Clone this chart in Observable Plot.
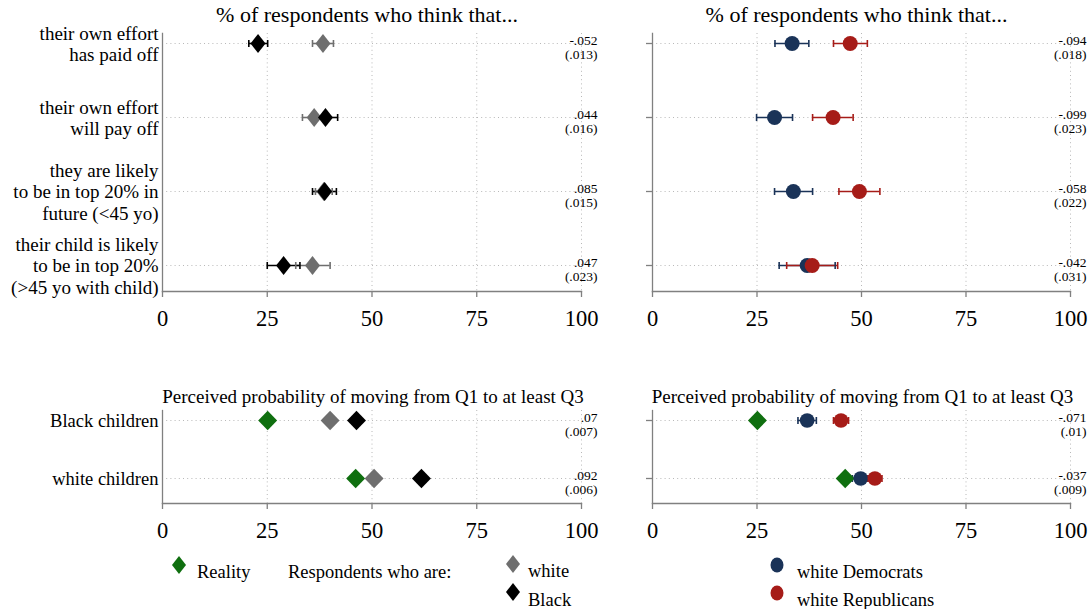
<!DOCTYPE html>
<html><head><meta charset="utf-8">
<script src="https://cdn.jsdelivr.net/npm/d3@7"></script>
<script src="https://cdn.jsdelivr.net/npm/@observablehq/plot@0.6"></script>
<style>
html,body{margin:0;padding:0;background:#fff;overflow:hidden;}
#wrap{position:relative;width:1091px;height:609px;font-family:"Liberation Serif",serif;}
.panel{position:absolute;}
.panel svg{overflow:visible;}
</style></head><body><div id="wrap"></div>
<script>
// ---------- data ----------
const questions = [
  "their own effort\nhas paid off",
  "their own effort\nwill pay off",
  "they are likely\nto be in top 20% in\nfuture (<45 yo)",
  "their child is likely\nto be in top 20%\n(>45 yo with child)"
];
// respondents by race (% who think that...)
const whiteMean = [38.3, 36.2, 38.5, 35.8];
const whiteLo   = [35.8, 33.4, 36.5, 31.8];
const whiteHi   = [40.8, 39.0, 40.5, 40.0];
const blackMean = [22.8, 38.9, 38.7, 28.9];
const blackLo   = [20.6, 36.0, 35.8, 25.0];
const blackHi   = [25.1, 41.8, 41.5, 32.8];
const raceCoef  = ["-.052", ".044", ".085", ".047"];
const raceSE    = ["(.013)", "(.016)", "(.015)", "(.023)"];
// respondents by party
const demMean = [33.4, 29.2, 33.7, 37.0];
const demLo   = [29.3, 24.9, 29.2, 30.3];
const demHi   = [37.4, 33.5, 38.3, 43.7];
const repMean = [47.3, 43.2, 49.5, 38.2];
const repLo   = [43.3, 38.3, 44.6, 32.1];
const repHi   = [51.4, 48.0, 54.4, 44.3];
const partyCoef = ["-.094", "-.099", "-.058", "-.042"];
const partySE   = ["(.018)", "(.023)", "(.022)", "(.031)"];
// perceived probability of moving from Q1 to at least Q3
const children = ["Black children", "white children"];
const reality    = [25.1, 46.1];
const whiteChild = [40.0, 50.5];
const blackChild = [46.3, 61.8];
const raceChildCoef = [".07", ".092"];
const raceChildSE   = ["(.007)", "(.006)"];
const demChild   = [37.0, 49.8];
const demChildLo = [34.8, 47.8];
const demChildHi = [39.2, 51.8];
const repChild   = [45.1, 53.2];
const repChildLo = [43.3, 51.5];
const repChildHi = [46.9, 54.9];
const partyChildCoef = ["-.071", "-.037"];
const partyChildSE   = ["(.01)", "(.009)"];
const xTicks = [0, 25, 50, 75, 100];
const titleTop = "% of respondents who think that...";
const titleBottom = "Perceived probability of moving from Q1 to at least Q3";

// legend labels and series keys
const groups = ["Reality", "White respondents", "Black respondents", "white Democrats", "white Republicans"];
const legendLabels = ["Reality", "white", "Black", "white Democrats", "white Republicans"];
const groupColors = ["#0f6f0f", "#6e6e6e", "#000000", "#1a3358", "#a61c18"];
const diamondGroups = ["Reality", "White respondents", "Black respondents"];
const FONT = '"Liberation Serif", serif';

function diamondSymbol(ratio) {
  return {draw(ctx, size) {
    const r = Math.sqrt(size) * 0.62625, w = r * ratio;
    ctx.moveTo(0, -r); ctx.lineTo(w, 0); ctx.lineTo(0, r); ctx.lineTo(-w, 0); ctx.closePath();
  }};
}
const capSymbol = {draw(ctx) { ctx.moveTo(0, -3.5); ctx.lineTo(0, 3.5); }};
function rows(cats, group, mean, lo, hi) {
  return cats.map((q, i) => ({q, group, mean: mean[i], lo: lo ? lo[i] : null, hi: hi ? hi[i] : null}));
}
function annots(cats, coef, se) {
  return cats.map((q, i) => ({q, t: coef[i] + "\n" + se[i]}));
}
const G = {value: "group", scale: "color"};

function panel(o) {
  const grid = {stroke: "#b8b8b8", strokeOpacity: 1, strokeWidth: 1, strokeDasharray: "1,3.2"};
  const axisStroke = {stroke: "#808080", strokeWidth: 1.3};
  const marks = [
    Plot.gridX({ticks: xTicks.slice(1), ...grid}),
    Plot.gridY({...grid}),
    Plot.frame({anchor: "left", ...axisStroke}),
    Plot.frame({anchor: "bottom", ...axisStroke}),
    Plot.axisX({ticks: xTicks, tickSize: 6, tickPadding: 13, fontSize: 22.5, ...axisStroke,
                fill: "#000", label: null}),
    Plot.axisY({tickSize: o.labels ? 0 : 6, tickPadding: 4, fontSize: o.labelSize, lineHeight: 1.13,
                ...axisStroke, fill: "#000", label: null,
                tickFormat: o.labels ? (d => d) : (() => "")})
  ];
  const err = o.data.filter(d => d.lo != null);
  if (err.length) {
    marks.push(Plot.ruleY(err, {y: "q", x1: "lo", x2: "hi", stroke: G, strokeWidth: 1.6}));
    marks.push(Plot.dot(err, {x: "lo", y: "q", stroke: G, fill: "none", strokeWidth: 1.6, symbol: capSymbol, r: 3}));
    marks.push(Plot.dot(err, {x: "hi", y: "q", stroke: G, fill: "none", strokeWidth: 1.6, symbol: capSymbol, r: 3}));
  }
  const dia = o.data.filter(d => diamondGroups.includes(d.group));
  const cir = o.data.filter(d => !diamondGroups.includes(d.group));
  if (dia.length) marks.push(Plot.dot(dia, {x: "mean", y: "q", fill: G, stroke: "none",
                                              symbol: diamondSymbol(o.ratio), r: o.dr}));
  if (cir.length) marks.push(Plot.dot(cir, {x: "mean", y: "q", fill: G, stroke: "none",
                                              symbol: "circle", r: o.cr}));
  marks.push(Plot.text(o.annot, {y: "q", text: "t", frameAnchor: "right", textAnchor: "end",
                                 lineAnchor: "middle", dx: 16, dy: 4, fontSize: 13.5, lineHeight: 1.06, fill: "#000"}));
  marks.push(Plot.text([o.title], {text: d => d, frameAnchor: "top", lineAnchor: "middle",
                                   dx: o.titleDx, dy: o.titleDy, fontSize: o.titleSize, fill: "#000"}));
  const svg = Plot.plot({
    width: o.width, height: o.height,
    marginLeft: 162, marginRight: o.marginRight, marginTop: o.marginTop, marginBottom: o.marginBottom,
    x: {domain: [0, 100]},
    y: {type: "point", domain: o.cats, range: o.yRange, padding: 0},
    color: {type: "ordinal", domain: groups, range: groupColors},
    style: {fontFamily: FONT, fontSize: "19px", color: "#000", background: "transparent", overflow: "visible"},
    marks
  });
  const div = document.createElement("div");
  div.className = "panel";
  div.style.left = o.left + "px";
  div.style.top = o.top + "px";
  div.appendChild(svg);
  document.getElementById("wrap").appendChild(div);
}

const topCommon = {cats: questions, top: 0, height: 345, marginTop: 33, marginBottom: 54,
                   yRange: [42, 265], title: titleTop, titleSize: 22, titleDx: -5, titleDy: -19,
                   ratio: 0.79, dr: 8.55, cr: 7.5, labelSize: 19};
const botCommon = {cats: children, top: 370, height: 190, marginTop: 40, marginBottom: 57,
                   yRange: [50, 108], title: titleBottom, titleSize: 19, titleDx: 1, titleDy: -13.5,
                   ratio: 0.97, dr: 8.8, cr: 7.3, labelSize: 18.5};

panel({...topCommon, left: 0, width: 610, marginRight: 29, labels: true,
  data: [...rows(questions, "White respondents", whiteMean, whiteLo, whiteHi),
         ...rows(questions, "Black respondents", blackMean, blackLo, blackHi)],
  annot: annots(questions, raceCoef, raceSE)});
panel({...topCommon, left: 490, width: 601, marginRight: 21, labels: false,
  data: [...rows(questions, "white Democrats", demMean, demLo, demHi),
         ...rows(questions, "white Republicans", repMean, repLo, repHi)],
  annot: annots(questions, partyCoef, partySE)});
panel({...botCommon, left: 0, width: 610, marginRight: 29, labels: true,
  data: [...rows(children, "Reality", reality),
         ...rows(children, "White respondents", whiteChild),
         ...rows(children, "Black respondents", blackChild)],
  annot: annots(children, raceChildCoef, raceChildSE)});
panel({...botCommon, left: 490, width: 601, marginRight: 21, labels: false,
  data: [...rows(children, "Reality", reality),
         ...rows(children, "white Democrats", demChild, demChildLo, demChildHi),
         ...rows(children, "white Republicans", repChild, repChildLo, repChildHi)],
  annot: annots(children, partyChildCoef, partyChildSE)});

// ---------- legend ----------
const col = g => groupColors[groups.indexOf(g)];
const lab = g => legendLabels[groups.indexOf(g)];
const dia = (cx, cy, g) => `<polygon points="${cx},${cy-9} ${cx+7},${cy} ${cx},${cy+9} ${cx-7},${cy}" fill="${col(g)}"/>`;
const ell = (cx, cy, g) => `<ellipse cx="${cx}" cy="${cy}" rx="6.5" ry="7.5" fill="${col(g)}"/>`;
const txt = (x, y, s) => `<text x="${x}" y="${y}" dominant-baseline="central" font-size="18.5">${s}</text>`;
const lg = document.createElement("div");
lg.className = "panel";
lg.style.left = "0px"; lg.style.top = "540px";
lg.innerHTML = `<svg width="1091" height="69" style="font-family:${FONT.replace(/"/g, "'")}">
${dia(179, 25, "Reality")}${txt(197, 32, lab("Reality"))}
${txt(288, 32, "Respondents who are:")}
${dia(513, 24, "White respondents")}${txt(528, 31, lab("White respondents"))}
${dia(513, 52, "Black respondents")}${txt(528, 60, lab("Black respondents"))}
${ell(777, 25, "white Democrats")}${txt(797, 32, lab("white Democrats"))}
${ell(777, 53, "white Republicans")}${txt(797, 60, lab("white Republicans"))}
</svg>`;
document.getElementById("wrap").appendChild(lg);
</script>
</body></html>
